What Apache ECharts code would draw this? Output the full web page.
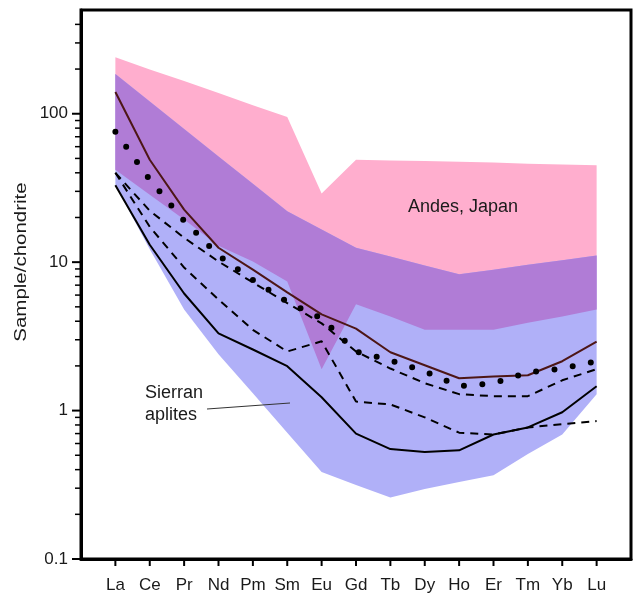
<!DOCTYPE html>
<html><head><meta charset="utf-8">
<script src="https://cdn.jsdelivr.net/npm/echarts@6/dist/echarts.min.js"></script>
<style>html,body{margin:0;padding:0;background:#fff}#c{width:635px;height:594px}</style>
</head><body><div id="c"></div>
<script>
// Rare earth elements (x categories)
const elements = ['La','Ce','Pr','Nd','Pm','Sm','Eu','Gd','Tb','Dy','Ho','Er','Tm','Yb','Lu'];

// Y axis ticks
const yLabelValues = [0.1, 1, 10, 100];
const yLabelTexts = ['0.1', '1', '10', '100'];
const yMinorTicks = [0.2,0.3,0.4,0.5,0.6,0.7,0.8,0.9, 2,3,4,5,6,7,8,9, 20,30,40,50,60,70,80,90, 200,300,400];

// Field: Andes, Japan (upper / lower bound)
const andesTop    = [240, 199, 166, 138, 114, 95, 29, 49, 48.5, 48, 47.5, 47, 46, 45.5, 45];
const andesBottom = [42, 28.5, 19.4, 12.9, 10.1, 7.4, 1.9, 5.2, 4.3, 3.5, 3.5, 3.5, 3.9, 4.3, 4.8];

// Field: Sierran aplites (upper / lower bound)
const sierraTop    = [185, 121, 79, 51.6, 33.7, 22, 16.6, 12.5, 10.9, 9.5, 8.3, 8.9, 9.6, 10.3, 11.1];
const sierraBottom = [33, 12.2, 4.8, 2.4, 1.31, 0.71, 0.385, 0.315, 0.26, 0.296, 0.33, 0.367, 0.51, 0.69, 1.29];

// Sample patterns
const brownLine  = [140, 49, 22.6, 12.5, 8.9, 6.25, 4.45, 3.57, 2.47, 2.02, 1.65, 1.70, 1.73, 2.15, 2.92];
const dottedLine = [75.5, 36, 19, 11.1, 7.6, 5.4, 4.18, 2.5, 2.18, 1.84, 1.46, 1.53, 1.81, 1.92, 2.15];
const dashedA    = [40, 22.2, 14.6, 10.1, 7.3, 5.3, 3.87, 2.5, 1.92, 1.53, 1.29, 1.25, 1.25, 1.6, 1.9];
const dashedB    = [40, 17.3, 9.2, 5.6, 3.5, 2.5, 2.93, 1.15, 1.10, 0.90, 0.71, 0.69, 0.77, 0.81, 0.85];
const solidLine  = [33, 13.1, 6.15, 3.31, 2.58, 1.99, 1.23, 0.70, 0.55, 0.525, 0.54, 0.69, 0.77, 0.975, 1.46];

const xPos = elements.map((e, i) => i + 1);
const pairs = arr => arr.map((v, i) => [xPos[i], v]);
const FONT = 'Liberation Sans, Arial, sans-serif';

function bandSeries(top, bottom, color, z) {
  return {
    type: 'custom', coordinateSystem: 'cartesian2d', silent: true, z: z,
    data: [[xPos[0], top[0]]],
    renderItem: (params, api) => {
      const pts = [];
      top.forEach((v, i) => pts.push(api.coord([xPos[i], v])));
      for (let i = bottom.length - 1; i >= 0; i--) pts.push(api.coord([xPos[i], bottom[i]]));
      return { type: 'polygon', shape: { points: pts }, style: { fill: color, stroke: null } };
    }
  };
}

function yTickSeries(values, len, width) {
  return {
    type: 'custom', coordinateSystem: 'cartesian2d', silent: true, clip: false, z: 10,
    data: values.map(v => [0, v]),
    renderItem: (params, api) => {
      const p = api.coord([0, api.value(1)]);
      return { type: 'line', shape: { x1: p[0] - len, y1: p[1], x2: p[0], y2: p[1] },
               style: { stroke: '#000', lineWidth: width } };
    }
  };
}

const xTickSeries = {
  type: 'custom', coordinateSystem: 'cartesian2d', silent: true, clip: false, z: 10,
  data: xPos.map(x => [x, 0.1]),
  renderItem: (params, api) => {
    const p = api.coord([api.value(0), api.value(1)]);
    return { type: 'line', shape: { x1: p[0], y1: p[1], x2: p[0], y2: p[1] + 7 },
             style: { stroke: '#000', lineWidth: 2 } };
  }
};

function lineSeries(data, color, width, type, cap) {
  return {
    type: 'line', data: pairs(data), symbol: 'none', silent: true, z: 5,
    lineStyle: { color: color, width: width, type: type, cap: cap || 'butt' }
  };
}

const chart = echarts.init(document.getElementById('c'), null, { renderer: 'canvas' });
chart.setOption({
  animation: false,
  backgroundColor: '#fff',
  grid: { left: 81, right: 4, top: 10, bottom: 34, show: true, borderColor: '#000', borderWidth: 3 },
  xAxis: {
    type: 'value', min: 0, max: 16, interval: 1,
    axisLine: { show: true, lineStyle: { color: '#000', width: 3 } },
    axisTick: { show: false }, splitLine: { show: false },
    axisLabel: {
      margin: 18, fontSize: 17, color: '#1a1a1a', fontFamily: FONT,
      formatter: v => elements[Math.round(v) - 1] || ''
    }
  },
  yAxis: {
    type: 'log', logBase: 10, min: 0.1, max: 500,
    axisLine: { show: true, lineStyle: { color: '#000', width: 3 } },
    axisTick: { show: false }, splitLine: { show: false }, minorTick: { show: false },
    axisLabel: {
      margin: 13, fontSize: 17, color: '#1a1a1a', fontFamily: FONT,
      showMaxLabel: false,
      formatter: v => {
        for (let i = 0; i < yLabelValues.length; i++) {
          if (Math.abs(Math.log10(v / yLabelValues[i])) < 1e-6) return yLabelTexts[i];
        }
        return '';
      }
    }
  },
  series: [
    bandSeries(andesTop, andesBottom, '#FFAECE', 1),
    bandSeries(sierraTop, sierraBottom, '#B0B0F8', 2),
    bandSeries(sierraTop, andesBottom, '#B07CD6', 3),
    lineSeries(brownLine, '#4D1616', 2),
    lineSeries(dottedLine, '#000', 6, [0, 18.5], 'round'),
    lineSeries(dashedA, '#000', 2, [8, 6]),
    lineSeries(dashedB, '#000', 2, [8, 6]),
    lineSeries(solidLine, '#000', 2),
    yTickSeries(yLabelValues, 9, 2),
    yTickSeries(yMinorTicks, 6, 1.5),
    xTickSeries
  ],
  graphic: [
    { type: 'text', x: 22, y: 262, rotation: Math.PI / 2, scaleX: 1.28, z: 20,
      style: { text: 'Sample/chondrite', fontSize: 16, fill: '#1a1a1a', align: 'center', verticalAlign: 'middle',
               fontFamily: FONT } },
    { type: 'text', x: 408, y: 207, z: 20,
      style: { text: 'Andes, Japan', fontSize: 18, fill: '#1a1a1a', align: 'left', verticalAlign: 'middle',
               fontFamily: FONT } },
    { type: 'text', x: 145, y: 393, z: 20,
      style: { text: 'Sierran', fontSize: 18, fill: '#1a1a1a', align: 'left', verticalAlign: 'middle',
               fontFamily: FONT } },
    { type: 'text', x: 145, y: 415, z: 20,
      style: { text: 'aplites', fontSize: 18, fill: '#1a1a1a', align: 'left', verticalAlign: 'middle',
               fontFamily: FONT } },
    { type: 'line', z: 20, shape: { x1: 207, y1: 409, x2: 290, y2: 403 },
      style: { stroke: '#333', lineWidth: 1 } }
  ]
});
</script>
</body></html>
